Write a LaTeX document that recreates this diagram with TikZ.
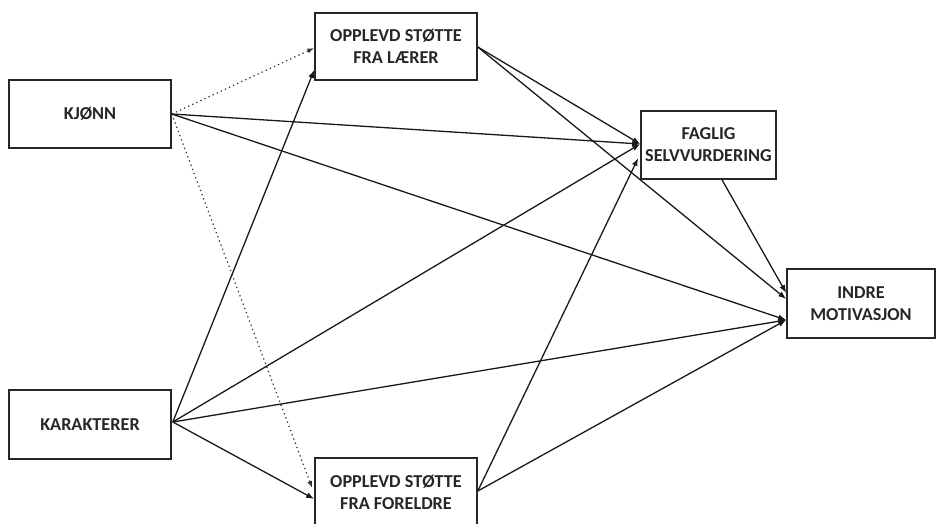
\documentclass[tikz,border=0pt]{standalone}
\usepackage{fontspec}
\setmainfont{Carlito}
\usetikzlibrary{arrows.meta,calc}
\begin{document}
\begin{tikzpicture}[x=1pt,y=-1pt,
  box/.style={draw=black!85,line width=1.6pt,rectangle,inner sep=0pt,
    minimum width=162pt,minimum height=68pt,align=center,
    font=\fontsize{18.2}{22}\selectfont\bfseries,text=black!85},
  path/.style={draw=black!90,line width=1.3pt,-{Latex[length=8pt,width=6pt]}},
  weak/.style={draw=black!80,line width=1.2pt,dash pattern=on 1.3pt off 3.2pt,
    -{Latex[length=7pt,width=5pt]}}]
\useasboundingbox (0,0) rectangle (938,524);
% predictors
\node[box] (kjonn) at (90,114) {KJØNN};
\node[box,minimum height=69pt] (kar) at (90,424.5) {KARAKTERER};
% perceived support
\node[box,minimum height=67pt] (laerer) at (396,46.5) {OPPLEVD STØTTE\\FRA LÆRER};
\node[box] (foreldre) at (396,492) {OPPLEVD STØTTE\\FRA FORELDRE};
% outcomes
\node[box,minimum width=135pt] (faglig) at (708.5,145) {FAGLIG\\SELVVURDERING};
\node[box,minimum width=148pt,minimum height=69pt] (indre) at (861,303.5) {INDRE\\MOTIVASJON};
% gender to support (dotted)
\draw[weak] (kjonn.east) -- ($(laerer.west)+(0,1.5)$);
\draw[weak] (kjonn.east) -- ($(foreldre.west)+(-2,-4)$);
% gender to outcomes
\draw[path] (kjonn.east) -- ($(faglig.west)+(0,-1)$);
\draw[path] (kjonn.east) -- ($(indre.west)+(0,16.5)$);
% grades
\draw[path] ($(kar.east)+(1,-2.5)$) -- ($(laerer.west)+(0,23.5)$);
\draw[path] ($(kar.east)+(1,-2.5)$) -- ($(foreldre.west)+(0,7)$);
\draw[path] ($(kar.east)+(1,-2.5)$) -- ($(faglig.west)+(0,-1)$);
\draw[path] ($(kar.east)+(1,-2.5)$) -- ($(indre.west)+(0,16.5)$);
% teacher support
\draw[path] ($(laerer.east)+(0,0.5)$) -- ($(faglig.west)+(0,-1)$);
\draw[path] ($(laerer.east)+(0,0.5)$) -- ($(indre.west)+(0,-4.5)$);
% parent support
\draw[path] ($(foreldre.east)+(0,-1)$) -- ($(faglig.west)+(-2,13)$);
\draw[path] ($(foreldre.east)+(0,-1)$) -- ($(indre.west)+(0,16.5)$);
% self-assessment to motivation
\draw[path] ($(faglig.south)+(13.5,0)$) -- ($(indre.west)+(0,-10.5)$);
\end{tikzpicture}
\end{document}
